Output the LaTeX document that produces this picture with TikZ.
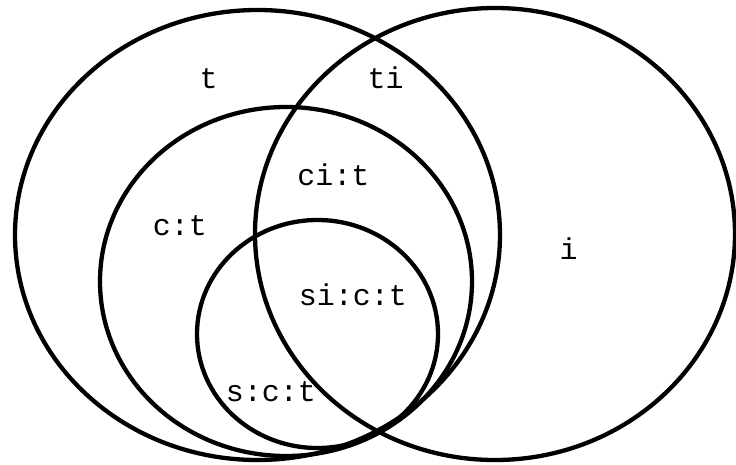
\documentclass[tikz,border=0pt]{standalone}
\usepackage{fontspec}
\newfontfamily\labelfont{Liberation Mono}
\begin{document}
\begin{tikzpicture}[x=1pt,y=-1pt,
  ring/.style={draw=black,line width=4.3pt},
  lbl/.style={font=\labelfont\fontsize{30}{30}\selectfont,inner sep=0pt,anchor=base}]
\useasboundingbox[fill=white] (0,0) rectangle (736,464);
\draw[ring] (257.5,235) ellipse [x radius=242.5,y radius=225];
\draw[ring] (495,234) ellipse [x radius=240,y radius=226];
\draw[ring] (286,281.5) ellipse [x radius=186,y radius=174.5];
\draw[ring] (317.5,334) ellipse [x radius=120.5,y radius=114];
\node[lbl] (t) at (208.5,88) {t};
\node[lbl] (ti) at (385.5,88) {ti};
\node[lbl] (cit) at (333.5,185) {ci:t};
\node[lbl] (ct) at (180,235) {c:t};
\node[lbl] (i) at (568.5,259) {i};
\node[lbl] (sict) at (353,305) {si:c:t};
\node[lbl] (sct) at (271,401) {s:c:t};
\end{tikzpicture}
\end{document}
